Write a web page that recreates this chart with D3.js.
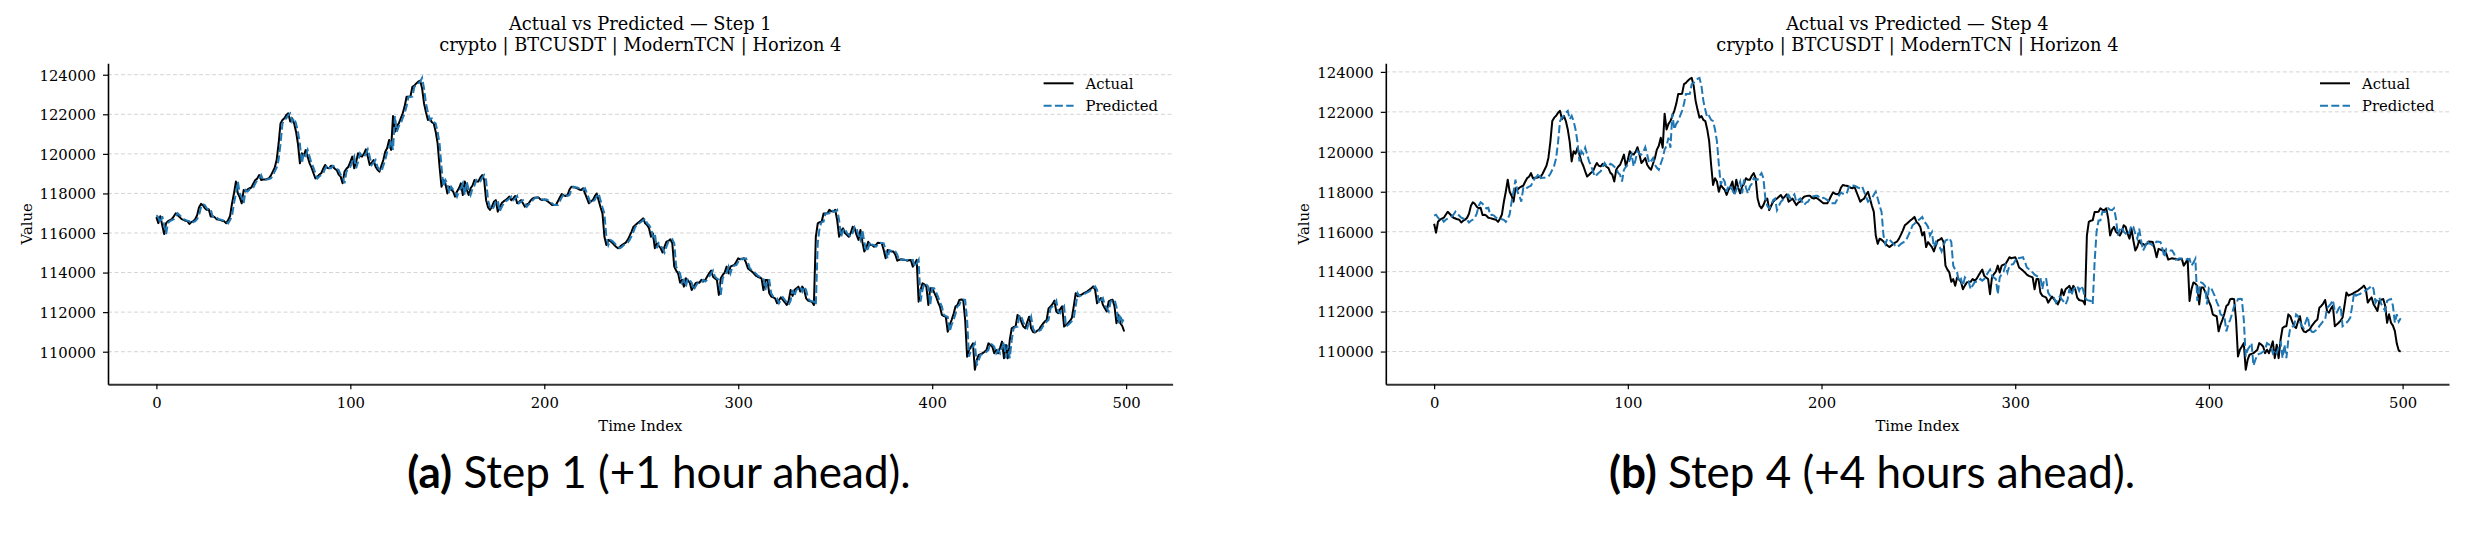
<!DOCTYPE html>
<html><head><meta charset="utf-8">
<script src="https://cdn.jsdelivr.net/npm/d3@7"></script>
<style>body{margin:0;background:#fff} svg{display:block}</style>
</head><body>
<svg id="c" width="2467" height="533"></svg>
<script>
const timeIndex = d3.range(500);
const xTicks = [0, 100, 200, 300, 400, 500];
const yTicks = [110000, 112000, 114000, 116000, 118000, 120000, 122000, 124000];
const panelTitles = ["Actual vs Predicted \u2014 Step 1", "Actual vs Predicted \u2014 Step 4"];
const subtitle = "crypto | BTCUSDT | ModernTCN | Horizon 4";
const seriesNames = ["Actual", "Predicted"];
const captionLabels = ["(a)", "(b)"];
const captionTexts = [" Step 1 (+1 hour ahead).", " Step 4 (+4 hours ahead)."];

const actualStep1 = [
116800,116500,116850,116400,115950,116500,116600,116650,116700,116850,
117000,116900,116800,116700,116660,116620,116600,116460,116550,116600,
116700,116900,117300,117470,117400,117250,117170,117200,116830,116850,
116800,116700,116680,116650,116620,116590,116490,116650,116860,117500,
118000,118600,118000,117800,117500,118170,118100,118200,118260,118300,
118500,118680,118750,118930,118680,118700,118700,118730,118760,118900,
119100,119300,119690,120500,121540,121710,121800,121960,122050,121630,
121800,121540,121120,120500,119520,120030,119900,120200,119860,119520,
119300,119020,118760,118850,118950,119020,119250,119440,119300,119270,
119400,119350,119250,119180,118950,118850,118510,119100,119250,119350,
119600,119860,119270,119600,120030,119900,119860,120000,120230,119860,
119440,119550,119690,119350,119200,119100,119400,119690,120110,120300,
120700,120200,121910,121120,121400,121540,121800,122050,122400,122890,
122890,122900,123390,123450,123560,123650,123700,123310,122550,122100,
121710,121790,121600,121540,121120,120530,119350,118340,118680,118510,
118000,118340,118200,118100,117840,118100,118260,118510,117920,118600,
118200,117920,118260,118400,118680,118600,118600,118800,118930,118680,
117660,117300,117170,117330,117580,117660,117080,117300,117500,117600,
117660,117750,117840,117660,117750,117870,117500,117580,117660,117500,
117330,117450,117500,117650,117750,117780,117800,117800,117700,117660,
117700,117650,117580,117500,117420,117420,117420,117600,117800,117970,
117900,117870,117920,118200,118340,118310,118300,118260,118200,118170,
118260,118000,117750,117500,117600,117660,117850,118000,117660,117300,
116990,115810,115390,115650,115600,115510,115400,115310,115230,115300,
115390,115450,115510,115650,115850,116070,116320,116400,116490,116570,
116650,116740,116490,116400,116240,115810,115980,115230,115480,115350,
115230,115010,115310,115560,115600,115680,115480,114300,114100,113960,
113490,113630,113290,113710,113600,113490,113120,113300,113460,113500,
113490,113630,113550,113630,113800,113960,114100,113790,113700,113630,
112870,113710,113880,114000,114300,113960,114300,114350,114380,114550,
114720,114670,114700,114720,114500,114210,114130,114050,113960,113850,
113790,113750,113710,113120,113630,113630,112950,112790,112750,112700,
112450,112600,112750,112620,112500,112360,112580,113120,112820,113120,
113200,113290,113040,113290,113120,112700,112580,112550,112530,112360,
115810,116490,116550,116570,116990,116990,117000,117170,117100,117080,
117170,116660,115810,116100,116240,116000,115910,115810,116000,116320,
116240,115900,115650,116150,115560,115060,115230,115560,115400,115390,
115310,115400,115510,115500,115480,115140,114720,115140,115100,115060,
115060,114900,114600,114640,114670,114650,114640,114600,114620,114640,
114300,114450,114640,112530,113120,113460,113400,113290,112360,113210,
113210,113000,112790,112500,112280,111860,111800,111770,111010,111350,
111600,111900,112280,112360,112620,112640,112620,111600,109750,110090,
110250,110420,109090,109590,109840,109880,109920,110000,110090,110420,
110350,110250,109920,110090,109920,110200,110510,109670,110340,109670,
110590,111180,111250,111270,111860,111770,111500,111270,111180,111500,
111770,111180,111000,110970,111050,111100,111270,111400,111520,111600,
112190,112280,112400,112580,112020,111950,112150,112290,111270,111350,
111440,111550,111700,112300,112960,112800,112850,112880,112950,113000,
113050,113130,113200,113300,113130,112450,112600,112710,112370,112200,
112030,112540,112600,112630,112290,111440,111870,111440,111300,111020];

const predictedStep1 = [
116900,116800,116500,116850,116400,115950,116500,116600,116650,116700,
116850,117000,116900,116800,116700,116660,116620,116600,116460,116550,
116600,116700,116900,117300,117470,117400,117250,117170,117200,116830,
116850,116800,116700,116680,116650,116620,116590,116490,116650,116860,
117500,118000,118600,118000,117800,117500,118170,118100,118200,118260,
118300,118500,118680,118750,118930,118680,118700,118700,118730,118760,
118900,119100,119300,119690,120500,121540,121710,121800,121960,122050,
121630,121800,121540,121120,120500,119520,120030,119900,120200,119860,
119520,119300,119020,118760,118850,118950,119020,119250,119440,119300,
119270,119400,119350,119250,119180,118950,118850,118510,119100,119250,
119350,119600,119860,119270,119600,120030,119900,119860,120000,120230,
119860,119440,119550,119690,119350,119200,119100,119400,119690,120110,
120300,120700,120200,121910,121120,121400,121540,121800,122050,122400,
122890,122890,122900,123390,123450,123560,123650,123840,123310,122550,
122100,121710,121790,121600,121540,121120,120530,119350,118340,118680,
118510,118000,118340,118200,118100,117840,118100,118260,118510,117920,
118600,118200,117920,118260,118400,118680,118600,118600,118800,118930,
118680,117660,117300,117170,117330,117580,117660,117080,117300,117500,
117600,117660,117750,117840,117660,117750,117870,117500,117580,117660,
117500,117330,117450,117500,117650,117750,117780,117800,117800,117700,
117660,117700,117650,117580,117500,117420,117420,117420,117600,117800,
117970,117900,117870,117920,118200,118340,118310,118300,118260,118200,
118170,118260,118000,117750,117500,117600,117660,117850,118000,117660,
117300,116990,115810,115390,115650,115600,115510,115400,115310,115230,
115300,115390,115450,115510,115650,115850,116070,116320,116400,116490,
116570,116650,116740,116490,116400,116240,115810,115980,115230,115480,
115350,115230,115010,115310,115560,115600,115680,115480,114300,114100,
113960,113490,113630,113290,113710,113600,113490,113120,113300,113460,
113500,113490,113630,113550,113630,113800,113960,114100,113790,113700,
113630,112870,113710,113880,114000,114300,113960,114300,114350,114380,
114550,114720,114670,114700,114720,114500,114210,114130,114050,113960,
113850,113790,113750,113710,113120,113630,113630,112950,112790,112750,
112700,112450,112600,112750,112620,112500,112360,112580,113120,112820,
113120,113200,113290,113040,113290,113120,112700,112580,112550,112530,
112360,115500,116300,116550,116570,116990,116990,117000,117170,117100,
117080,117170,116660,115810,116100,116240,116000,115910,115810,116000,
116320,116240,115900,115650,116150,115560,115060,115230,115560,115400,
115390,115310,115400,115510,115500,115480,115140,114720,115140,115100,
115060,115060,114900,114600,114640,114670,114650,114640,114600,114620,
114640,114300,114450,114640,112530,113120,113460,113400,113290,112360,
113210,113210,113000,112790,112500,112280,111860,111800,111770,111010,
111350,111600,111900,112280,112360,112620,112640,112620,111600,109750,
110090,110250,110420,109300,109590,109840,109880,109920,110000,110090,
110420,110350,110250,109920,110090,109920,110200,110510,109670,110340,
109670,110590,111180,111250,111270,111860,111770,111500,111270,111180,
111500,111770,111180,111000,110970,111050,111100,111270,111400,111520,
111600,112190,112280,112400,112580,112020,111950,112150,112290,111270,
111350,111440,111550,111700,112300,112960,112800,112850,112880,112950,
113000,113050,113130,113200,113300,113130,112450,112600,112710,112370,
112200,112030,112540,112600,112630,112290,111440,111870,111500,111690];

const actualStep4 = [
116400,115950,116500,116600,116650,116700,116850,117000,116900,116800,
116700,116660,116620,116600,116460,116550,116600,116700,116900,117300,
117470,117400,117250,117170,117200,116830,116850,116800,116700,116680,
116650,116620,116590,116490,116650,116860,117500,118000,118600,118000,
117800,117500,118170,118100,118200,118260,118300,118500,118680,118750,
118930,118680,118700,118700,118730,118760,118900,119100,119300,119690,
120500,121540,121710,121800,121960,122050,121630,121800,121540,121120,
120500,119520,120030,119900,120200,119860,119520,119300,119020,118760,
118850,118950,119020,119250,119440,119300,119270,119400,119350,119250,
119180,118950,118850,118510,119100,119250,119350,119600,119860,119270,
119600,120030,119900,119860,120000,120230,119860,119440,119550,119690,
119350,119200,119100,119400,119690,120110,120300,120700,120200,121910,
121120,121400,121540,121800,122050,122400,122890,122890,122900,123390,
123450,123560,123650,123700,123310,122550,122100,121710,121790,121600,
121540,121120,120530,119350,118340,118680,118510,118000,118340,118200,
118100,117840,118100,118260,118510,117920,118600,118200,117920,118260,
118400,118680,118600,118600,118800,118930,118680,117660,117300,117170,
117330,117580,117660,117080,117300,117500,117600,117660,117750,117840,
117660,117750,117870,117500,117580,117660,117500,117330,117450,117500,
117650,117750,117780,117800,117800,117700,117660,117700,117650,117580,
117500,117420,117420,117420,117600,117800,117970,117900,117870,117920,
118200,118340,118310,118300,118260,118200,118170,118260,118000,117750,
117500,117600,117660,117850,118000,117660,117300,116990,115810,115390,
115650,115600,115510,115400,115310,115230,115300,115390,115450,115510,
115650,115850,116070,116320,116400,116490,116570,116650,116740,116490,
116400,116240,115810,115980,115230,115480,115350,115230,115010,115310,
115560,115600,115680,115480,114300,114100,113960,113490,113630,113290,
113710,113600,113490,113120,113300,113460,113500,113490,113630,113550,
113630,113800,113960,114100,113790,113700,113630,112870,113710,113880,
114000,114300,113960,114300,114350,114380,114550,114720,114670,114700,
114720,114500,114210,114130,114050,113960,113850,113790,113750,113710,
113120,113630,113630,112950,112790,112750,112700,112450,112600,112750,
112620,112500,112360,112580,113120,112820,113120,113200,113290,113040,
113290,113120,112700,112580,112550,112530,112360,115810,116490,116550,
116570,116990,116990,117000,117170,117100,117080,117170,116660,115810,
116100,116240,116000,115910,115810,116000,116320,116240,115900,115650,
116150,115560,115060,115230,115560,115400,115390,115310,115400,115510,
115500,115480,115140,114720,115140,115100,115060,115060,114900,114600,
114640,114670,114650,114640,114600,114620,114640,114300,114450,114640,
112530,113120,113460,113400,113290,112360,113210,113210,113000,112790,
112500,112280,111860,111800,111770,111010,111350,111600,111900,112280,
112360,112620,112640,112620,111600,109750,110090,110250,110420,109090,
109590,109840,109880,109920,110000,110090,110420,110350,110250,109920,
110090,109920,110200,110510,109670,110340,109670,110590,111180,111250,
111270,111860,111770,111500,111270,111180,111500,111770,111180,111000,
110970,111050,111100,111270,111400,111520,111600,112190,112280,112400,
112580,112020,111950,112150,112290,111270,111350,111440,111550,111700,
112300,112960,112800,112850,112880,112950,113000,113050,113130,113200,
113300,113130,112450,112600,112710,112370,112200,112030,112540,112600,
112630,112290,111440,111870,111440,111300,111020,110400,110050,110000];

const predictedStep4 = [
116800,116850,116700,116600,116650,116500,116600,116650,116700,116750,
116850,117000,116900,116800,116700,116660,116620,116600,116460,116550,
116600,116700,116900,117300,117470,117400,117250,117170,117200,116830,
116850,116800,116700,116680,116650,116620,116590,116490,116650,116860,
117500,118000,118600,118000,117800,117500,118170,118100,118200,118260,
118300,118500,118680,118750,118930,118680,118700,118700,118730,118760,
118900,119100,119300,119690,120500,121540,121710,121800,121960,122050,
121630,121800,121540,121120,120500,119520,120030,119900,120200,119860,
119520,119300,119020,118760,118850,118950,119020,119250,119440,119300,
119270,119400,119350,119250,119180,118950,118850,118510,119100,119250,
119350,119600,119860,119270,119600,120030,119900,119860,120000,120230,
119860,119440,119550,119690,119350,119200,119100,119400,119690,120110,
120300,120700,120200,121910,121120,121400,121540,121800,122050,122400,
122890,122890,122900,123390,123450,123560,123650,123700,123310,122550,
122100,121710,121790,121600,121540,121120,120530,119350,118340,118680,
118510,118000,118340,118200,118100,117840,118100,118260,118510,117920,
118600,118200,117920,118260,118400,118680,118600,118600,118800,118930,
118680,117660,117300,117170,117330,117580,117660,117080,117300,117500,
117600,117660,117750,117840,117660,117750,117870,117500,117580,117660,
117500,117330,117450,117500,117650,117750,117780,117800,117800,117700,
117660,117700,117650,117580,117500,117420,117420,117420,117600,117800,
117970,117900,117870,117920,118200,118340,118310,118300,118260,118200,
118170,118260,118000,117750,117500,117600,117660,117850,118000,117660,
117300,116990,115810,115390,115650,115600,115510,115400,115310,115230,
115300,115390,115450,115510,115650,115850,116070,116320,116400,116490,
116570,116650,116740,116490,116400,116240,115810,115980,115230,115480,
115350,115230,115010,115310,115560,115600,115680,115480,114300,114100,
113960,113490,113630,113290,113710,113600,113490,113120,113300,113460,
113500,113490,113630,113550,113630,113800,113960,114100,113790,113700,
113630,112870,113710,113880,114000,114300,113960,114300,114350,114380,
114550,114720,114670,114700,114720,114500,114210,114130,114050,113960,
113850,113790,113750,113710,113120,113630,113630,112950,112790,112750,
112700,112450,112600,112750,112620,112500,112360,112580,113120,112820,
113120,113200,113290,113040,113290,113120,112700,112580,112550,112530,
112360,114500,116000,116550,116570,116990,116990,117000,117170,117100,
117080,117170,116660,115810,116100,116240,116000,115910,115810,116000,
116320,116240,115900,115650,116150,115560,115060,115230,115560,115400,
115390,115310,115400,115510,115500,115480,115140,114720,115140,115100,
115060,115060,114900,114600,114640,114670,114650,114640,114600,114620,
114640,114300,114450,114640,112530,113120,113460,113400,113290,112360,
113210,113210,113000,112790,112500,112280,111860,111800,111770,111010,
111350,111600,111900,112280,112360,112620,112640,112620,111600,109750,
110090,110250,110420,109300,109590,109840,109880,109920,110000,110090,
110420,110350,110250,109920,110090,109920,110200,110510,109670,110340,
109670,110590,111180,111250,111270,111860,111770,111500,111270,111180,
111500,111770,111180,111000,110970,111050,111100,111270,111400,111520,
111600,112190,112280,112400,112580,112020,111950,112150,112290,111270,
111350,111440,111550,111700,112300,112960,112800,112850,112880,112950,
113000,113050,113130,113200,113300,113130,112450,112600,112710,112370,
112200,112030,112540,112600,112630,112290,111440,111870,111500,111670];

const svg = d3.select("#c");
const FONT = "'DejaVu Serif', serif";
const plotTop = 63.3, plotBottom = 384.3;
const panels = [
  {actual: actualStep1, pred: predictedStep1, x0: 108, x1: 1172.6, capX: 659},
  {actual: actualStep4, pred: predictedStep4, x0: 1385.8, x1: 2449, capX: 1872}
];

panels.forEach((p, k) => {
  const g = svg.append("g");
  const xe = d3.extent(timeIndex), xm = (xe[1] - xe[0]) * 0.05;
  const x = d3.scaleLinear().domain([xe[0] - xm, xe[1] + xm]).range([p.x0, p.x1]);
  const ye = d3.extent(p.actual.concat(p.pred)), ym = (ye[1] - ye[0]) * 0.05;
  const y = d3.scaleLinear().domain([ye[0] - ym, ye[1] + ym]).range([plotBottom, plotTop]);

  g.append("g").selectAll("line").data(yTicks).join("line")
    .attr("x1", p.x0).attr("x2", p.x1)
    .attr("y1", d => y(d)).attr("y2", d => y(d))
    .attr("stroke", "#d4d4d4").attr("stroke-width", 1).attr("stroke-dasharray", "4,2.5");

  const line = d3.line().x((d, i) => x(timeIndex[i])).y(d => y(d));
  g.append("path").datum(p.actual).attr("d", line)
    .attr("fill", "none").attr("stroke", "#000").attr("stroke-width", 2).attr("stroke-linejoin", "round");
  g.append("path").datum(p.pred).attr("d", line)
    .attr("fill", "none").attr("stroke", "#1f77b4").attr("stroke-width", 2).attr("stroke-dasharray", "8,3.3");

  const xa = g.append("g").attr("transform", `translate(0,${plotBottom})`)
    .call(d3.axisBottom(x).tickValues(xTicks).tickSizeInner(5).tickSizeOuter(0).tickPadding(6).tickFormat(d3.format("d")));
  xa.select(".domain").attr("stroke", "#333").attr("stroke-width", 2);
  xa.selectAll(".tick line").attr("stroke", "#000").attr("stroke-width", 1.2);
  xa.selectAll(".tick text").attr("font-family", FONT).attr("font-size", 14.8).attr("fill", "#000").attr("dy", null).attr("y", 24);

  const ya = g.append("g").attr("transform", `translate(${p.x0},0)`)
    .call(d3.axisLeft(y).tickValues(yTicks).tickSizeInner(5).tickSizeOuter(0).tickPadding(7).tickFormat(d3.format("d")));
  ya.select(".domain").attr("stroke", "#000").attr("stroke-width", 1.6);
  ya.selectAll(".tick line").attr("stroke", "#000").attr("stroke-width", 1.2);
  ya.selectAll(".tick text").attr("font-family", FONT).attr("font-size", 14.8).attr("fill", "#000").attr("dy", "0.36em");

  const cx = (p.x0 + p.x1) / 2;
  g.append("text").attr("x", cx).attr("y", 30).attr("text-anchor", "middle")
    .attr("font-family", FONT).attr("font-size", 17.8).text(panelTitles[k]);
  g.append("text").attr("x", cx).attr("y", 51).attr("text-anchor", "middle")
    .attr("font-family", FONT).attr("font-size", 17.8).text(subtitle);
  g.append("text").attr("x", cx).attr("y", 431).attr("text-anchor", "middle")
    .attr("font-family", FONT).attr("font-size", 14.8).text("Time Index");
  g.append("text").attr("transform", `translate(${p.x0 - 76.5},${(plotTop + plotBottom) / 2}) rotate(-90)`)
    .attr("text-anchor", "middle").attr("font-family", FONT).attr("font-size", 14.8).text("Value");

  const lg = g.append("g");
  const styles = [{c: "#000", d: null}, {c: "#1f77b4", d: "8,3.3"}];
  seriesNames.forEach((name, j) => {
    const ly = 83.3 + j * 22.4;
    lg.append("line").attr("x1", p.x1 - 129).attr("x2", p.x1 - 99).attr("y1", ly).attr("y2", ly)
      .attr("stroke", styles[j].c).attr("stroke-width", 2).attr("stroke-dasharray", styles[j].d);
    lg.append("text").attr("x", p.x1 - 87).attr("y", ly + 5.2)
      .attr("font-family", FONT).attr("font-size", 14.8).text(name);
  });

  const cap = svg.append("text").attr("x", p.capX).attr("y", 488).attr("text-anchor", "middle")
    .attr("font-family", "Lato, 'Open Sans', sans-serif").attr("font-size", 44);
  cap.append("tspan").attr("font-weight", "bold").text(captionLabels[k]);
  cap.append("tspan").text(captionTexts[k]);
});
</script>
</body></html>
